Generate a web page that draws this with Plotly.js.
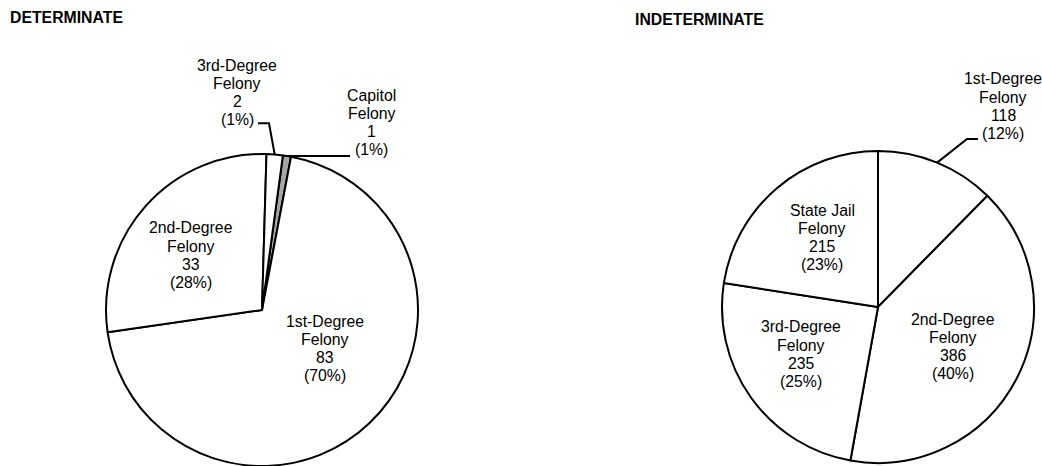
<!DOCTYPE html>
<html>
<head>
<meta charset="utf-8">
<script src="https://cdn.plot.ly/plotly-3.0.1.min.js"></script>
<style>html,body{margin:0;padding:0;background:#fff;}#chart{width:1042px;height:466px;}</style>
</head>
<body>
<div id="chart"></div>
<script>
// ---- data ----
const detCategories = ['Capitol', '1st-Degree', '2nd-Degree', '3rd-Degree'];
const detValues = [1, 83, 33, 2];
const detPercents = [1, 70, 28, 1];
const detColors = ['#a6a6a6', '#ffffff', '#ffffff', '#ffffff'];

const indCategories = ['1st-Degree', '2nd-Degree', '3rd-Degree', 'State Jail'];
const indValues = [118, 386, 235, 215];
const indPercents = [12, 40, 25, 23];
const indColors = ['#ffffff', '#ffffff', '#ffffff', '#ffffff'];

const titles = ['DETERMINATE', 'INDETERMINATE'];

// ---- layout geometry ----
const W = 1042, H = 466;
const detGeom = {cx: 262, cy: 310, r: 156, rotation: 7.7};
const indGeom = {cx: 878, cy: 307, r: 156, rotation: 0};
const FONT = 'Liberation Sans, Arial, sans-serif';
const FS = 15.8;
const LH = 18.3;

function px(x) { return x / W; }
function py(y) { return 1 - y / H; }
function domain(g) {
  return {x: [px(g.cx - g.r), px(g.cx + g.r)], y: [Math.max(0, py(g.cy + g.r)), py(g.cy - g.r)]};
}
function edgePoint(g, values, idx) {
  const total = values.reduce((a, b) => a + b, 0);
  let cum = 0;
  for (let i = 0; i < idx; i++) cum += values[i];
  const ang = (g.rotation + (cum + values[idx] / 2) / total * 360) * Math.PI / 180;
  return [g.cx + g.r * Math.sin(ang), g.cy - g.r * Math.cos(ang)];
}

const traces = [
  {
    type: 'pie', values: detValues, labels: detCategories.map(c => c + ' Felony'),
    marker: {colors: detColors, line: {color: '#000', width: 2}},
    sort: false, direction: 'clockwise', rotation: detGeom.rotation,
    textinfo: 'none', hoverinfo: 'none', showlegend: false, domain: domain(detGeom)
  },
  {
    type: 'pie', values: indValues, labels: indCategories.map(c => c + ' Felony'),
    marker: {colors: indColors, line: {color: '#000', width: 2}},
    sort: false, direction: 'clockwise', rotation: indGeom.rotation,
    textinfo: 'none', hoverinfo: 'none', showlegend: false, domain: domain(indGeom)
  }
];

const annotations = [];
const shapes = [];
function addLabel(cat, val, pct, cx, y0) {
  const lines = [cat, 'Felony', String(val), '(' + pct + '%)'];
  lines.forEach((t, i) => annotations.push({
    text: t, x: px(cx), y: py(y0 + i * LH), xref: 'paper', yref: 'paper',
    xanchor: 'center', yanchor: 'middle', showarrow: false,
    font: {family: FONT, size: FS, color: '#000'}
  }));
}
function addLeader(points) {
  const d = points.map((p, i) => (i ? 'L' : 'M') + px(p[0]) + ',' + py(p[1])).join(' ');
  shapes.push({type: 'path', xref: 'paper', yref: 'paper', path: d, line: {color: '#000', width: 2}});
}

// label placement (pixel centre of first line)
const detLabelPos = [[372, 95], [325, 321], [191, 227.7], [237, 65]];
const indLabelPos = [[1003, 79], [953, 319], [801, 326.7], [822, 210]];
detCategories.forEach((c, i) => addLabel(c, detValues[i], detPercents[i], detLabelPos[i][0], detLabelPos[i][1]));
indCategories.forEach((c, i) => addLabel(c, indValues[i], indPercents[i], indLabelPos[i][0], indLabelPos[i][1]));

// leader lines for outside labels
(function () {
  const e3 = edgePoint(detGeom, detValues, 3);
  addLeader([[258, 123.3], [269, 123.3], e3]);
  const e0 = edgePoint(detGeom, detValues, 0);
  addLeader([[350, e0[1]], e0]);
  const e1 = edgePoint(indGeom, indValues, 0);
  addLeader([[978, 139], [967, 139], e1]);
})();

// titles
annotations.push({text: '<b>' + titles[0] + '</b>', x: px(8), y: py(17.5), xref: 'paper', yref: 'paper',
  xanchor: 'left', yanchor: 'middle', showarrow: false, font: {family: FONT, size: FS, color: '#000'}});
annotations.push({text: '<b>' + titles[1] + '</b>', x: px(633), y: py(19.5), xref: 'paper', yref: 'paper',
  xanchor: 'left', yanchor: 'middle', showarrow: false, font: {family: FONT, size: FS, color: '#000'}});

const layout = {
  width: W, height: H,
  margin: {l: 0, r: 0, t: 0, b: 0},
  paper_bgcolor: '#ffffff', plot_bgcolor: '#ffffff',
  showlegend: false,
  annotations: annotations, shapes: shapes
};
Plotly.newPlot('chart', traces, layout, {displayModeBar: false, staticPlot: true});
</script>
</body>
</html>
